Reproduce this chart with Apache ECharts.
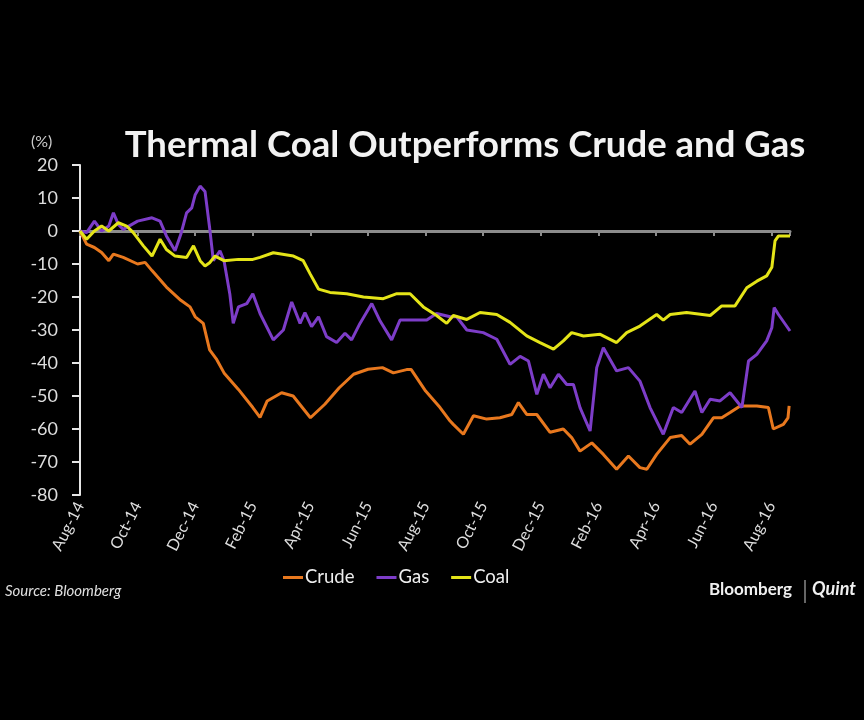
<!DOCTYPE html>
<html>
<head>
<meta charset="utf-8">
<title>Thermal Coal Outperforms Crude and Gas</title>
<script src="https://cdn.jsdelivr.net/npm/echarts@6.0.0/dist/echarts.min.js"></script>
<style>
  html, body { margin: 0; padding: 0; background: #000; }
  #chart { width: 864px; height: 720px; }
</style>
</head>
<body>
<div id="chart"></div>
<script>
// x = months since Aug 2014, y = % change
const xLabels = ['Aug-14', 'Oct-14', 'Dec-14', 'Feb-15', 'Apr-15', 'Jun-15', 'Aug-15',
  'Oct-15', 'Dec-15', 'Feb-16', 'Apr-16', 'Jun-16', 'Aug-16'];

const crude = [[0, 0], [0.23, -4], [0.5, -5], [0.75, -6.5], [1.0, -9], [1.16, -7], [1.5, -8],
  [2.0, -10], [2.26, -9.5], [2.5, -12], [3.0, -17], [3.5, -21], [3.82, -23], [4.0, -26],
  [4.28, -28], [4.5, -36], [4.75, -39], [5.0, -43], [5.5, -48], [6.0, -53.5], [6.25, -56.5],
  [6.5, -51.5], [7.0, -49], [7.4, -50], [8.0, -56.6], [8.5, -52.5], [9.0, -47.5], [9.5, -43.4],
  [10.0, -41.9], [10.5, -41.4], [10.88, -43], [11.34, -42], [11.5, -42], [12.0, -48.5],
  [12.5, -53.5], [12.85, -57.6], [12.96, -58.6], [13.31, -61.6], [13.66, -56], [14.12, -57],
  [14.58, -56.6], [14.99, -55.6], [15.22, -52], [15.51, -55.6], [15.86, -55.6], [16.32, -61],
  [16.78, -60], [17.07, -62.6], [17.36, -66.7], [17.77, -64.2], [18.17, -67.7], [18.63, -72.2],
  [19.04, -68.2], [19.44, -71.7], [19.68, -72.2], [20.02, -67.7], [20.49, -62.6], [20.89, -62],
  [21.18, -64.6], [21.59, -61.6], [21.99, -56.6], [22.28, -56.6], [22.57, -55], [22.92, -53],
  [23.5, -53], [23.9, -53.5], [24.07, -60], [24.42, -58.6], [24.58, -56.6], [24.62, -53]];

const gas = [[0, 0], [0.23, -0.5], [0.5, 3], [0.75, 0], [1.0, 1.5], [1.16, 5.5], [1.33, 2],
  [1.5, 0.5], [2.0, 3], [2.5, 4], [2.78, 3], [3.0, -1.5], [3.3, -6], [3.5, -1], [3.7, 5.5],
  [3.88, 7], [4.0, 11], [4.17, 13.6], [4.34, 12], [4.5, 1], [4.63, -9], [4.86, -6], [5.0, -9],
  [5.2, -19], [5.32, -28], [5.5, -23], [5.79, -22], [6.0, -19], [6.25, -25], [6.71, -33],
  [7.06, -30], [7.35, -21.5], [7.64, -28], [7.81, -24.7], [8.04, -29], [8.28, -26], [8.56, -32],
  [8.91, -33.8], [9.2, -31], [9.43, -33], [9.72, -28], [10.13, -22], [10.42, -27.3], [10.82, -33],
  [11.11, -27], [11.69, -27], [12.04, -27], [12.38, -25], [12.85, -26], [13.08, -26],
  [13.43, -30], [14.0, -30.8], [14.47, -32.8], [14.93, -40.4], [15.28, -38], [15.57, -39.4],
  [15.86, -49.5], [16.09, -43.4], [16.32, -47.5], [16.61, -43.4], [16.9, -46.5], [17.13, -46.5],
  [17.36, -53.5], [17.71, -60.6], [17.94, -41.4], [18.17, -35.4], [18.63, -42.4], [19.04, -41.4],
  [19.44, -45.5], [19.79, -53.5], [20.25, -61.6], [20.6, -53.5], [20.89, -55], [21.35, -48.5],
  [21.59, -55], [21.88, -51], [22.22, -51.5], [22.57, -49], [22.98, -53.5], [23.21, -39.4],
  [23.5, -37.4], [23.84, -33.3], [24.02, -29.3], [24.1, -23.2], [24.25, -25.3], [24.65, -30.3]];

const coal = [[0, 0], [0.23, -2.5], [0.5, 0], [0.75, 1.5], [1.0, 0], [1.33, 2.5], [1.62, 1.5],
  [1.85, -0.5], [2.2, -4.5], [2.5, -7.6], [2.78, -2.5], [3.0, -5.6], [3.3, -7.6], [3.7, -8],
  [3.94, -4.5], [4.17, -9], [4.34, -10.6], [4.5, -9.6], [4.69, -7.6], [5.0, -9], [5.5, -8.6],
  [6.0, -8.6], [6.25, -8], [6.71, -6.6], [7.41, -7.6], [7.75, -9], [7.99, -13], [8.28, -17.6],
  [8.68, -18.6], [9.26, -19], [9.84, -20], [10.53, -20.5], [11.0, -19], [11.46, -19],
  [11.92, -23], [12.38, -25.6], [12.73, -28], [12.96, -25.6], [13.43, -26.8], [13.89, -24.7],
  [14.47, -25.3], [14.93, -27.7], [15.51, -31.8], [15.97, -33.8], [16.44, -35.8], [16.78, -33.3],
  [17.07, -30.8], [17.48, -31.8], [18.06, -31.3], [18.63, -33.8], [18.98, -30.8], [19.44, -28.8],
  [20.02, -25.3], [20.25, -27], [20.49, -25.3], [21.06, -24.7], [21.88, -25.6], [22.28, -22.7],
  [22.74, -22.7], [23.15, -17.2], [23.5, -15.2], [23.84, -13.6], [24.02, -11], [24.13, -3],
  [24.25, -1.5], [24.65, -1.5]];

const FONT = 'Lato, "Noto Sans", sans-serif';
const X_MAX = 24.65;

function lineSeries(name, data, color) {
  return {
    name: name,
    type: 'line',
    xAxisIndex: 0,
    data: data,
    showSymbol: false,
    symbol: 'none',
    lineStyle: { color: color, width: 3 },
    itemStyle: { color: color },
    emphasis: { disabled: true }
  };
}

const chart = echarts.init(document.getElementById('chart'), null, { renderer: 'canvas' });

chart.setOption({
  backgroundColor: '#000',
  animation: false,
  textStyle: { fontFamily: FONT },
  title: {
    text: 'Thermal Coal Outperforms Crude and Gas',
    left: 460,
    top: 122,
    textAlign: 'center',
    textStyle: { color: '#f2f2f2', fontSize: 36.5, fontWeight: 'bold', fontFamily: FONT }
  },
  legend: {
    data: ['Crude', 'Gas', 'Coal'],
    left: 278,
    top: 563,
    icon: 'rect',
    itemWidth: 20,
    itemHeight: 3,
    itemGap: 22,
    textStyle: { color: '#eeeeee', fontSize: 18.5, fontFamily: FONT, padding: [0, 0, 0, -3] }
  },
  grid: { left: 80, top: 165, width: 710, height: 330 },
  xAxis: [
    {
      // axis line crossing at zero
      type: 'value',
      min: 0,
      max: X_MAX,
      interval: 2,
      axisLine: { onZero: true, lineStyle: { color: '#8c8c8c', width: 3 } },
      axisTick: { show: true, length: 5, lineStyle: { color: '#8c8c8c', width: 2 } },
      axisLabel: { show: false },
      splitLine: { show: false }
    },
    {
      // labels at the bottom
      type: 'value',
      position: 'bottom',
      min: 0,
      max: X_MAX,
      interval: 2,
      axisLine: { show: false },
      axisTick: { show: false },
      splitLine: { show: false },
      axisLabel: {
        rotate: 63,
        margin: 8,
        color: '#dddddd',
        fontSize: 16,
        fontFamily: FONT,
        showMaxLabel: false,
        formatter: function (v) { return xLabels[Math.round(v / 2)] || ''; }
      }
    }
  ],
  yAxis: {
    type: 'value',
    min: -80,
    max: 20,
    interval: 10,
    axisLine: { show: true, onZero: false, lineStyle: { color: '#e6e6e6', width: 2 } },
    axisTick: { show: true, length: 8, lineStyle: { color: '#e6e6e6', width: 2 } },
    splitLine: { show: false },
    axisLabel: { color: '#dddddd', fontSize: 18, margin: 22, fontFamily: FONT }
  },
  graphic: [
    { type: 'text', left: 31, top: 134,
      style: { text: '(%)', fill: '#cccccc', font: '16px ' + FONT } },
    { type: 'text', left: 5, top: 584,
      style: { text: 'Source: Bloomberg', fill: '#e0e0e0', font: 'italic 15px ' + FONT } },
    { type: 'text', left: 709, top: 581,
      style: { text: 'Bloomberg', fill: '#f0f0f0', font: 'bold 17px ' + FONT } },
    { type: 'line', shape: { x1: 805, y1: 580, x2: 805, y2: 603 },
      style: { stroke: '#cccccc', lineWidth: 1 } },
    { type: 'text', left: 812, top: 580,
      style: { text: 'Quint', fill: '#f0f0f0', font: 'italic bold 18px ' + FONT } }
  ],
  series: [
    lineSeries('Crude', crude, '#e8781e'),
    lineSeries('Gas', gas, '#7d3dc8'),
    lineSeries('Coal', coal, '#e4e418')
  ]
});
</script>
</body>
</html>
